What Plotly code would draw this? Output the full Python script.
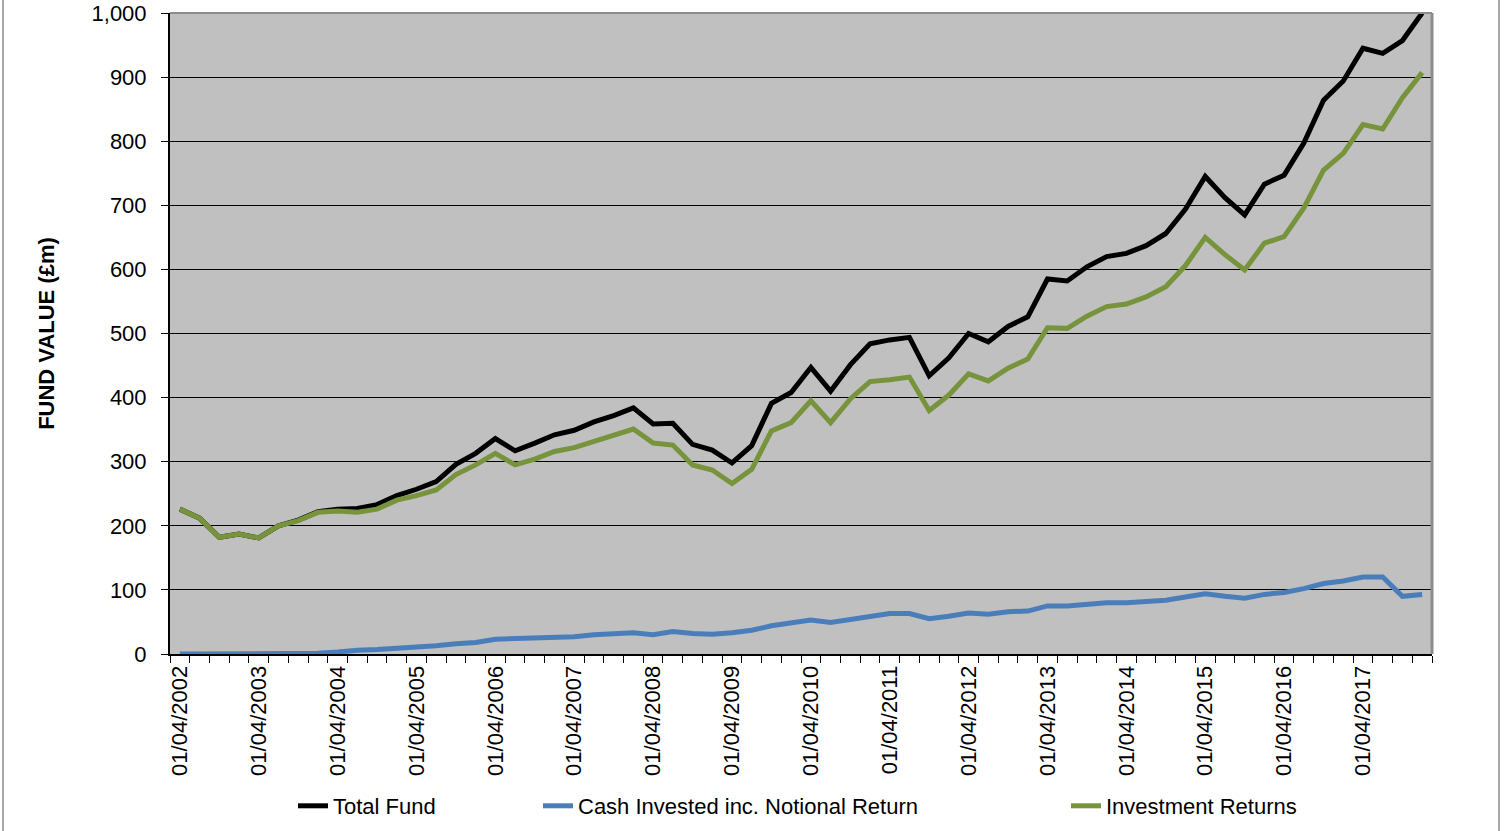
import pandas as pd
import plotly.graph_objects as go

# Quarterly valuation dates (01/04/2002 .. 01/01/2018)
dates = pd.date_range("2002-04-01", periods=64, freq="QS").strftime("%d/%m/%Y").tolist()
tick_labels = dates[::4]

total_fund = [226, 212, 182, 187, 181, 200, 209, 222, 226, 227,
              233, 247, 257, 269, 296, 313, 336, 317, 329, 342,
              349, 362, 372, 384, 359, 360, 327, 318, 298, 325,
              391, 408, 447, 410, 451, 484, 490, 494, 434, 462,
              500, 487, 511, 526, 585, 582, 604, 620, 625, 637,
              656, 694, 745, 712, 685, 733, 747, 797, 864, 894,
              945, 937, 957, 1000]

cash_invested = [0, 0, 0, 0, 0, 0, 1, 1, 3, 6,
                 7, 9, 10, 13, 16, 18, 23, 24, 25, 26,
                 27, 30, 32, 33, 30, 35, 32, 31, 33, 37,
                 44, 49, 53, 49, 54, 59, 63, 63, 55, 59,
                 64, 62, 66, 67, 75, 75, 77, 80, 80, 82,
                 84, 89, 94, 90, 87, 93, 96, 102, 110, 114,
                 120, 120, 90, 93]

investment_returns = [226, 212, 182, 187, 181, 200, 208, 221, 223, 221,
                      226, 240, 247, 256, 280, 295, 313, 295, 304, 316,
                      322, 332, 341, 351, 329, 326, 295, 287, 266, 288,
                      348, 361, 395, 361, 398, 425, 428, 432, 380, 404,
                      437, 426, 446, 460, 509, 508, 527, 542, 546, 557,
                      573, 606, 650, 623, 599, 641, 651, 696, 755, 781,
                      826, 819, 868, 907]

series_names = ["Total Fund", "Cash Invested inc. Notional Return", "Investment Returns"]
series_colors = ["#000000", "#4A7EBB", "#77933C"]
series_values = [total_fund, cash_invested, investment_returns]

FONT = "Liberation Sans, Arial, sans-serif"
idx = list(range(len(dates)))

fig = go.Figure()
legend_ids = ["legend", "legend2", "legend3"]
for name, color, vals, lg in zip(series_names, series_colors, series_values, legend_ids):
    fig.add_trace(go.Scatter(
        x=idx, y=vals, mode="lines", name=name,
        line=dict(color=color, width=5),
        customdata=dates,
        hovertemplate="%{customdata}: %{y}<extra>" + name + "</extra>",
        legend=lg,
    ))

FIG_W, FIG_H = 1504, 831
PL, PR = 170, 1432
PT, PB = 13, 654
W = PR - PL
H = PB - PT

def px_x(p):
    return (p - PL) / W

def px_y(p):
    return (PB - p) / H

leg_y = px_y(806)
legend_common = dict(orientation="h", yanchor="middle", y=leg_y, xanchor="left",
                     font=dict(family=FONT, size=22, color="black"),
                     bgcolor="rgba(0,0,0,0)", borderwidth=0)

fig.update_layout(
    width=FIG_W, height=FIG_H,
    margin=dict(l=PL, r=FIG_W - PR, t=PT, b=FIG_H - PB, autoexpand=False),
    paper_bgcolor="white",
    plot_bgcolor="#C0C0C0",
    font=dict(family=FONT, size=22, color="black"),
    showlegend=True,
    legend=dict(x=px_x(333 - 40), **legend_common),
    legend2=dict(x=px_x(578 - 40), **legend_common),
    legend3=dict(x=px_x(1106 - 40), **legend_common),
    xaxis=dict(
        range=[-0.5, len(dates) - 0.5],
        tickmode="array", tickvals=idx[::4], ticktext=tick_labels,
        tickangle=-90, ticks="", ticklabelstandoff=1,
        tickfont=dict(family=FONT, size=22, color="black"),
        showgrid=False, zeroline=False,
        showline=True, linecolor="black", linewidth=2,
        minor=dict(tickmode="linear", tick0=-0.5, dtick=1, ticks="outside",
                   ticklen=7, tickcolor="black", tickwidth=1, showgrid=False),
    ),
    yaxis=dict(
        range=[0, 1000], tickmode="linear", tick0=0, dtick=100,
        tickformat=",", ticks="outside", ticklen=7, tickcolor="black", tickwidth=1,
        ticklabelstandoff=10,
        tickfont=dict(family=FONT, size=22, color="black"),
        showgrid=True, gridcolor="black", gridwidth=1,
        zeroline=False, showline=True, linecolor="black", linewidth=2,
        title=dict(text="<b>FUND VALUE (£m)</b>", standoff=31,
                   font=dict(family=FONT, size=22, color="black")),
    ),
    shapes=[
        dict(type="line", xref="paper", yref="paper", x0=0, x1=1, y0=1, y1=1,
             line=dict(color="#8c8c8c", width=2), layer="above"),
        dict(type="line", xref="paper", yref="paper", x0=1, x1=1, y0=0, y1=1,
             line=dict(color="#8c8c8c", width=3), layer="above"),
        dict(type="line", xref="paper", yref="paper", x0=px_x(3), x1=px_x(3),
             y0=px_y(FIG_H), y1=px_y(0), line=dict(color="#8c8c8c", width=1.5)),
        dict(type="line", xref="paper", yref="paper", x0=px_x(1499), x1=px_x(1499),
             y0=px_y(FIG_H), y1=px_y(0), line=dict(color="#8c8c8c", width=1.5)),
    ],
)

fig.write_html("out.html", config={"displayModeBar": False},
               post_script="document.body.style.margin='0';")
